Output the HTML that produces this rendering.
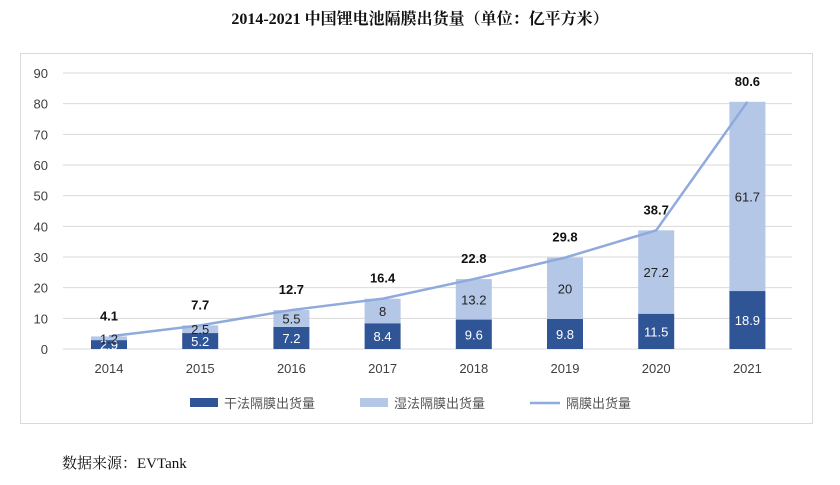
<!DOCTYPE html>
<html><head><meta charset="utf-8"><style>
body{margin:0;background:#fff;width:840px;height:480px;overflow:hidden;font-family:"Liberation Sans","Noto Sans CJK SC",sans-serif}
</style></head><body>
<svg width="840" height="480">
<text x="420" y="24" text-anchor="middle" font-family="Liberation Serif,'Noto Serif CJK SC',serif" font-weight="bold" font-size="16" fill="#111">2014-2021 中国锂电池隔膜出货量（单位：亿平方米）</text>
<rect x="20.5" y="53.5" width="792" height="370" fill="none" stroke="#d9d9d9"/>
<g id="grid"></g><g id="bars"></g><g id="line"></g><g id="labels"></g>
<g font-size="13" fill="#555">
<rect x="190" y="398" width="28" height="9" fill="#2f5597"/>
<text x="224" y="408">干法隔膜出货量</text>
<rect x="360" y="398" width="28" height="9" fill="#b4c7e7"/>
<text x="394" y="408">湿法隔膜出货量</text>
<line x1="530" y1="403" x2="560" y2="403" stroke="#8faadc" stroke-width="2.5"/>
<text x="566" y="408">隔膜出货量</text>
</g>
<text x="62" y="468" font-family="Liberation Serif,'Noto Serif CJK SC',serif" font-size="15" fill="#111">数据来源：EVTank</text>
</svg>
<script>
const years=["2014","2015","2016","2017","2018","2019","2020","2021"];
const dry=[2.9,5.2,7.2,8.4,9.6,9.8,11.5,18.9];
const wet=[1.2,2.5,5.5,8,13.2,20,27.2,61.7];
const total=[4.1,7.7,12.7,16.4,22.8,29.8,38.7,80.6];
const yTicks=[0,10,20,30,40,50,60,70,80,90];
const NS="http://www.w3.org/2000/svg";
const y=v=>349-v*(349-73)/90;
const x=i=>109+i*91.2;
const bw=36;
function mk(tag,at,parent,txt){const e=document.createElementNS(NS,tag);for(const k in at)e.setAttribute(k,at[k]);if(txt!==undefined)e.textContent=txt;document.getElementById(parent).appendChild(e);return e;}
yTicks.forEach(t=>{
 const g=mk('line',{x1:63,x2:792,y1:y(t),y2:y(t),stroke:'#d9d9d9','stroke-width':1},'grid');
 
 
 const l=mk('text',{x:48,y:y(t)+5,'text-anchor':'end','font-size':13,fill:'#404040'},'grid',String(t));
 
 
});
years.forEach((yr,i)=>{
 const l=mk('text',{x:x(i),y:373,'text-anchor':'middle','font-size':13,fill:'#404040'},'grid',yr);
 
 
 const d=mk('rect',{x:x(i)-bw/2,y:y(dry[i]),width:bw,height:y(0)-y(dry[i]),fill:'#2f5597'},'bars');
 
 
 const w=mk('rect',{x:x(i)-bw/2,y:y(dry[i]+wet[i]),width:bw,height:y(dry[i])-y(dry[i]+wet[i]),fill:'#b4c7e7'},'bars');
 
 
 const dl=mk('text',{x:x(i),y:(y(0)+y(dry[i]))/2+5,'text-anchor':'middle','font-size':13,fill:'#fff'},'labels',String(dry[i]));
 
 
 const wl=mk('text',{x:x(i),y:(y(dry[i])+y(dry[i]+wet[i]))/2+5,'text-anchor':'middle','font-size':13,fill:'#222'},'labels',String(wet[i]));
 
 
 const tl=mk('text',{x:x(i),y:y(total[i])-16,'text-anchor':'middle','font-size':13,'font-weight':'bold',fill:'#111'},'labels',String(total[i]));
 
 
});
const pl=mk('polyline',{points:total.map((v,i)=>x(i)+','+y(v)).join(' '),fill:'none',stroke:'#8faadc','stroke-width':2.5},'line');


</script>
</body></html>
